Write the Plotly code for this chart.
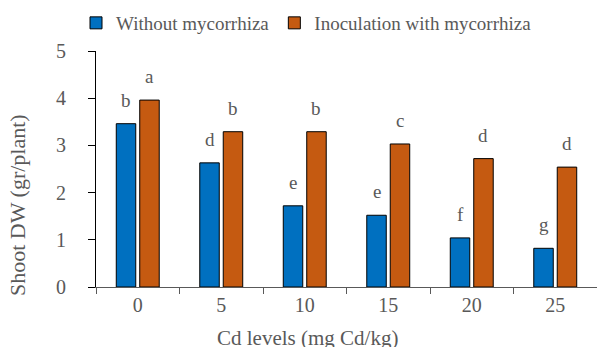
import plotly.graph_objects as go

categories = ["0", "5", "10", "15", "20", "25"]
without_myc = [3.46, 2.63, 1.72, 1.52, 1.04, 0.82]
with_myc = [3.96, 3.29, 3.29, 3.03, 2.72, 2.54]
letters_without = ["b", "d", "e", "e", "f", "g"]
letters_with = ["a", "b", "b", "c", "d", "d"]
series_names = ["Without mycorrhiza", "Inoculation with mycorrhiza"]
y_ticks = [0, 1, 2, 3, 4, 5]
x_title = "Cd levels (mg Cd/kg)"
y_title = "Shoot DW (gr/plant)"

FONT = "Liberation Serif"
GREY = "#595959"
BLUE = "#0070C0"
ORANGE = "#C55A11"

W, H = 597, 347
L, R, T, B = 96, 0, 51, 60

fig = go.Figure()
fig.add_trace(go.Bar(x=categories, y=without_myc, name=series_names[0],
                     marker=dict(color=BLUE, line=dict(color="black", width=1))))
fig.add_trace(go.Bar(x=categories, y=with_myc, name=series_names[1],
                     marker=dict(color=ORANGE, line=dict(color="black", width=1))))

offset = 11.7
for i, (v, t) in enumerate(zip(without_myc, letters_without)):
    fig.add_annotation(x=i, y=v, text=t, showarrow=False, xshift=-offset,
                       yanchor="bottom", yshift=11,
                       font=dict(family=FONT, size=19, color=GREY))
for i, (v, t) in enumerate(zip(with_myc, letters_with)):
    fig.add_annotation(x=i, y=v, text=t, showarrow=False, xshift=offset,
                       yanchor="bottom", yshift=11,
                       font=dict(family=FONT, size=19, color=GREY))

# axis titles (positioned as in the reference)
fig.add_annotation(xref="paper", yref="paper", x=(307 - L) / (W - L - R), y=(H - 338 - B) / (H - T - B),
                   text=x_title, showarrow=False, xanchor="center", yanchor="middle",
                   font=dict(family=FONT, size=21, color=GREY))
fig.add_annotation(xref="paper", yref="paper", x=(17 - L) / (W - L - R), y=(H - 205 - B) / (H - T - B),
                   text=y_title, showarrow=False, textangle=-90, xanchor="center", yanchor="middle",
                   font=dict(family=FONT, size=22, color=GREY))

fig.update_layout(
    width=W, height=H,
    margin=dict(l=L, r=R, t=T, b=B, autoexpand=False),
    paper_bgcolor="white", plot_bgcolor="white",
    barmode="group", bargap=0.438, bargroupgap=0.17,
    font=dict(family=FONT, size=20, color=GREY),
    showlegend=True,
    legend=dict(orientation="h", xref="container", x=76 / W, xanchor="left",
                yref="container", y=1 - 23 / H, yanchor="middle",
                font=dict(family=FONT, size=19, color=GREY),
                itemwidth=30,
                bgcolor="rgba(0,0,0,0)"),
    xaxis=dict(
        type="category", range=[-0.5, len(categories) - 0.5],
        showline=True, linecolor=GREY, linewidth=1,
        ticks="outside", tickson="boundaries", ticklen=6, tickcolor=GREY,
        showgrid=False, zeroline=False, automargin=False,
        tickfont=dict(family=FONT, size=20, color=GREY),
    ),
    yaxis=dict(
        range=[0, 5], tickvals=y_ticks, showline=True, linecolor="black", linewidth=1,
        ticks="outside", ticklen=7, tickcolor="black",
        showgrid=False, zeroline=False, automargin=False,
        ticklabelstandoff=18,
        tickfont=dict(family=FONT, size=20, color=GREY),
    ),
)

fig.write_html("out.html", config={"displayModeBar": False},
               post_script="document.body.style.margin='0';")
